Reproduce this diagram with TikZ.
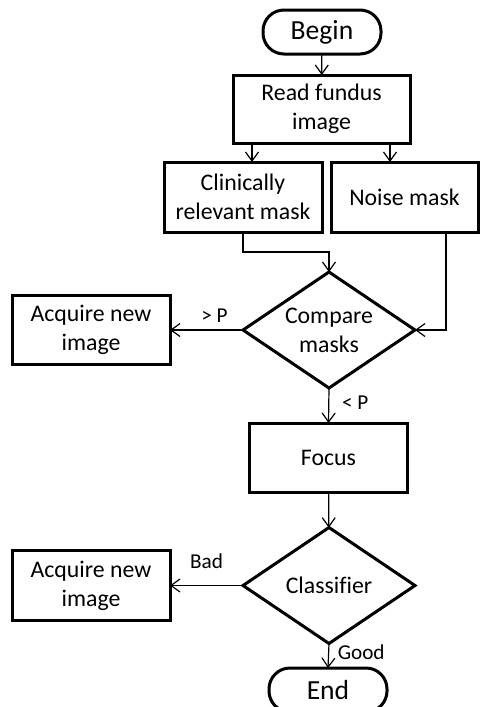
\documentclass[tikz,border=0pt]{standalone}
\usepackage{fontspec}
\setmainfont{Carlito}[Ligatures=NoCommon]
\usetikzlibrary{shapes.geometric, positioning, arrows.meta}

\begin{document}
\begin{tikzpicture}[
        terminal/.style={rectangle, draw, line width=1.5pt, rounded corners=10.5pt, minimum width=59pt, minimum height=22pt, inner sep=0pt, outer sep=0pt, align=center, font=\fontsize{13.8}{15}\selectfont},
        box/.style={rectangle, draw, line width=1.5pt, minimum width=79pt, minimum height=34.5pt, inner sep=1pt, outer sep=0pt, align=center, font=\fontsize{11.9}{14.6}\selectfont},
        decision/.style={diamond, draw, line width=1.5pt, aspect=1.48, minimum width=86pt, minimum height=58pt, inner sep=0pt, outer sep=0pt, align=center, font=\fontsize{11.9}{14.6}\selectfont},
        arrow/.style={-{Straight Barb[length=4.5pt, width=6.5pt]}, line width=0.6pt},
        lbl/.style={font=\fontsize{10.6}{12}\selectfont}
    ]
%
    \useasboundingbox (0,0) rectangle (243pt,-353.5pt);
%
    % Nodes
    \node[terminal] (begin) at (161pt,-16pt) {Begin};
    \node[box, minimum width=88.5pt, minimum height=34pt] (read) at (160.75pt,-54.5pt) {Read fundus\\image};
    \node[box, minimum height=35pt] (clin) at (121.5pt,-98.5pt) {Clinically\\relevant mask};
    \node[box, right=4.5pt of clin, minimum width=73.5pt, minimum height=35pt] (noise) {Noise mask};
    \node[decision] (cmp) at (164.5pt,-165pt) {Compare\\masks};
    \node[box, left=36.5pt of cmp] (acq1) {Acquire new\\image};
    \node[box] (focus) at (164.25pt,-228.75pt) {Focus};
    \node[decision] (cls) at (164.5pt,-292.75pt) {Classifier};
    \node[box, left=36.5pt of cls, minimum height=35pt] (acq2) {Acquire new\\image};
    \node[terminal] (end) at (164pt,-345pt) {End};
%
    % Arrows
    \draw[arrow] (begin) -- (read);
    \draw[arrow] ([xshift=-34.75pt]read.south) -- ([xshift=-34.75pt]read.south |- clin.north);
    \draw[arrow] ([xshift=34.25pt]read.south) -- ([xshift=34.25pt]read.south |- noise.north);
    \draw[arrow] (clin.south) -- ++(0,-10pt) -| (cmp.north);
    \draw[arrow] ([xshift=20.75pt]noise.south) |- (cmp.east);
%
    \draw[arrow] (cmp.west) -- (acq1.east) node[lbl, midway, above, xshift=4pt] {> P};
    \draw[arrow] (cmp.south) -- (focus.north) node[lbl, midway, right, xshift=3pt, yshift=1.5pt] {< P};
    \draw[arrow] (focus) -- (cls);
    \draw[arrow] (cls.west) -- (acq2.east) node[lbl, midway, above=5pt] {Bad};
    \draw[arrow] (cls.south) -- (end.north) node[lbl, midway, right, xshift=1pt, yshift=2pt] {Good};
%
\end{tikzpicture}
\end{document}
